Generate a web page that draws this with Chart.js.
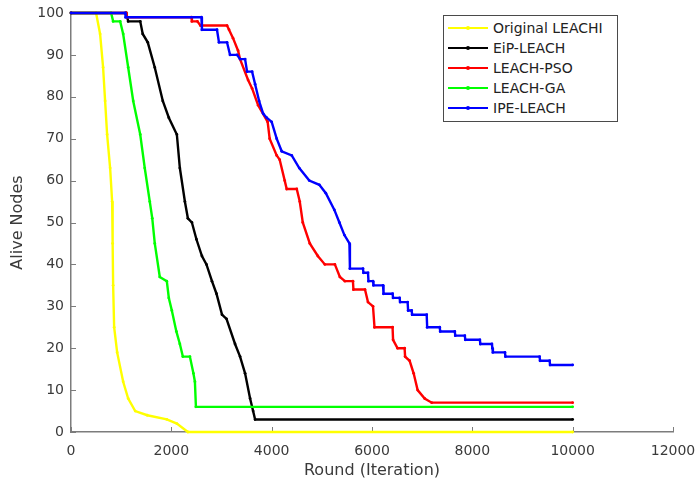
<!DOCTYPE html>
<html>
<head>
<meta charset="utf-8">
<script src="https://cdn.jsdelivr.net/npm/chart.js@4.4.1/dist/chart.umd.min.js"></script>
<style>
  body { margin: 0; background: #fff; }
  #wrap { position: relative; width: 697px; height: 487px; }
  #legend {
    position: absolute; left: 443px; top: 15px; width: 175px; height: 107px;
    box-sizing: border-box; border: 1px solid #4a4a4a; background: #fff;
    padding-top: 2px; font-family: "DejaVu Sans", sans-serif; font-size: 14px; color: #222;
  }
  .row { display: flex; align-items: center; height: 20px; }
  .swatch { position: relative; width: 40px; height: 1.5px; margin-left: 4px; }
  .swatch span { position: absolute; left: 18px; top: -1.25px; width: 4px; height: 4px; border-radius: 2px; }
  .label { margin-left: 5px; white-space: nowrap; }
</style>
</head>
<body>
<div id="wrap">
  <canvas id="chart" width="697" height="487"></canvas>
  <div id="legend"></div>
</div>
<script>
const seriesNames = ["Original LEACHI", "EiP-LEACH", "LEACH-PSO", "LEACH-GA", "IPE-LEACH"];
const seriesColors = ["#ffff00", "#000000", "#ff0000", "#00ff00", "#0000ff"];

const leachiRounds = [0, 500, 580, 640, 680, 720, 780, 820, 830, 840, 860, 920, 1040, 1140, 1280, 1520, 1910, 2110, 2330, 10000];
const leachiAlive = [100, 100, 95, 87, 79, 71, 63, 55, 45, 35, 25, 19, 12, 8, 5, 4, 3, 2, 0, 0];

const eipRounds = [0, 1100, 1140, 1380, 1430, 1530, 1670, 1830, 1950, 2110, 2170, 2270, 2330, 2410, 2500, 2610, 2700, 2810, 2900, 3010, 3100, 3270, 3370, 3470, 3570, 3630, 3670, 10000];
const eipAlive = [100, 100, 98, 98, 95, 93, 87, 79, 75, 71, 63, 55, 51, 50, 46, 42, 40, 36, 33, 28, 27, 21, 18, 14, 8, 5, 3, 3];

const psoRounds = [0, 1100, 1110, 2400, 2410, 2520, 2580, 3110, 3150, 3230, 3330, 3370, 3530, 3610, 3730, 3920, 3960, 4100, 4160, 4260, 4300, 4500, 4560, 4620, 4760, 4920, 5060, 5260, 5360, 5460, 5620, 5630, 5860, 5920, 6020, 6050, 6410, 6420, 6510, 6650, 6660, 6750, 6830, 6910, 7050, 7190, 10000];
const psoAlive = [100, 100, 99, 99, 98, 98, 97, 97, 96, 94, 91, 89, 84, 82, 78, 74, 70, 66, 65, 60, 58, 58, 55, 50, 45, 42, 40, 40, 37, 36, 36, 34, 34, 31, 30, 25, 25, 22, 20, 20, 18, 17, 14, 10, 8, 7, 7];

const gaRounds = [0, 800, 840, 980, 1040, 1140, 1240, 1380, 1470, 1570, 1620, 1670, 1770, 1910, 1950, 2010, 2100, 2170, 2230, 2370, 2440, 2470, 2490, 10000];
const gaAlive = [100, 100, 98, 98, 95, 87, 79, 71, 63, 55, 51, 45, 37, 36, 32, 29, 24, 21, 18, 18, 14, 12, 6, 6];

const ipeRounds = [0, 1080, 1090, 2600, 2610, 2910, 2950, 3110, 3170, 3310, 3370, 3470, 3510, 3610, 3670, 3750, 3830, 3900, 4000, 4100, 4200, 4400, 4550, 4750, 4950, 5080, 5250, 5350, 5450, 5550, 5560, 5820, 5830, 5920, 5930, 6020, 6030, 6220, 6230, 6410, 6420, 6550, 6560, 6710, 6720, 6790, 6800, 7090, 7100, 7350, 7360, 7650, 7660, 7850, 7860, 8150, 8160, 8390, 8400, 8410, 8650, 8660, 9340, 9350, 9540, 9550, 10000];
const ipeAlive = [100, 100, 99, 99, 96, 96, 93, 93, 90, 90, 89, 89, 86, 86, 83, 79, 76, 75, 74, 70, 67, 66, 63, 60, 59, 57, 53, 50, 47, 45, 39, 39, 38, 38, 36, 36, 35, 35, 33, 33, 32, 32, 31, 31, 29, 29, 28, 28, 25, 25, 24, 24, 23, 23, 22, 22, 21, 21, 20, 19, 19, 18, 18, 17, 17, 16, 16];

const xTickValues = [0, 2000, 4000, 6000, 8000, 10000, 12000];
const yTickValues = [0, 10, 20, 30, 40, 50, 60, 70, 80, 90, 100];

const axisColor = "#7c7c7c";
const textColor = "#3a3a3a";

function toPoints(xs, ys) {
  return xs.map((x, i) => ({ x: x, y: ys[i] }));
}

const allRounds = [leachiRounds, eipRounds, psoRounds, gaRounds, ipeRounds];
const allAlive = [leachiAlive, eipAlive, psoAlive, gaAlive, ipeAlive];
const drawOrder = [5, 4, 2, 3, 1];

const datasets = seriesNames.map((name, i) => ({
  label: name,
  data: toPoints(allRounds[i], allAlive[i]),
  borderColor: seriesColors[i],
  backgroundColor: seriesColors[i],
  borderWidth: 2.4,
  pointRadius: 1.4,
  pointHoverRadius: 0,
  pointBorderWidth: 0,
  tension: 0,
  clip: 6,
  order: drawOrder[i],
}));

// small tick marks pointing into the plot, like the original figure
const inwardTicks = {
  id: "inwardTicks",
  beforeDatasetsDraw(chart) {
    const { ctx, scales } = chart;
    const x = scales.x;
    const y = scales.y;
    ctx.save();
    ctx.strokeStyle = axisColor;
    ctx.lineWidth = 1;
    x.ticks.forEach((t) => {
      const px = Math.round(x.getPixelForValue(t.value)) + 0.5;
      ctx.beginPath();
      ctx.moveTo(px, y.bottom);
      ctx.lineTo(px, y.bottom - 5);
      ctx.stroke();
    });
    y.ticks.forEach((t) => {
      const py = Math.round(y.getPixelForValue(t.value)) + 0.5;
      ctx.beginPath();
      ctx.moveTo(x.left, py);
      ctx.lineTo(x.left + 5, py);
      ctx.stroke();
    });
    ctx.restore();
  },
};

new Chart(document.getElementById("chart"), {
  type: "line",
  data: { datasets: datasets },
  options: {
    responsive: false,
    animation: false,
    devicePixelRatio: 1,
    layout: { padding: { top: 13, right: 24, left: 0, bottom: 0 } },
    plugins: { legend: { display: false }, tooltip: { enabled: false } },
    scales: {
      x: {
        type: "linear",
        min: 0,
        max: 12000,
        afterFit: (scale) => {
          scale.height = 55;
          scale.paddingLeft = 0;
          scale.paddingRight = 0;
        },
        afterBuildTicks: (scale) => { scale.ticks = xTickValues.map((v) => ({ value: v })); },
        ticks: {
          padding: 11,
          color: textColor,
          font: { family: "DejaVu Sans", size: 14 },
          callback: (v) => String(v),
          maxRotation: 0,
        },
        grid: { display: true, drawOnChartArea: false, drawTicks: false },
        border: { display: true, color: axisColor, width: 1.5 },
        title: {
          display: true,
          text: "Round (Iteration)",
          color: textColor,
          font: { family: "DejaVu Sans", size: 16 },
          padding: { top: 0, bottom: 7 },
        },
      },
      y: {
        type: "linear",
        min: 0,
        max: 100,
        afterFit: (scale) => {
          scale.width = 71;
          scale.paddingTop = 0;
          scale.paddingBottom = 0;
        },
        afterBuildTicks: (scale) => { scale.ticks = yTickValues.map((v) => ({ value: v })); },
        ticks: {
          padding: 7,
          color: textColor,
          font: { family: "DejaVu Sans", size: 14 },
          callback: (v) => String(v),
        },
        grid: { display: true, drawOnChartArea: false, drawTicks: false },
        border: { display: true, color: axisColor, width: 1.5 },
        title: {
          display: true,
          text: "Alive Nodes",
          color: textColor,
          font: { family: "DejaVu Sans", size: 16 },
          padding: { top: 8, bottom: 0 },
        },
      },
    },
  },
  plugins: [inwardTicks],
});

// legend box drawn as html, top right inside the axes
const legend = document.getElementById("legend");
seriesNames.forEach((name, i) => {
  const row = document.createElement("div");
  row.className = "row";
  const swatch = document.createElement("div");
  swatch.className = "swatch";
  swatch.style.background = seriesColors[i];
  const dot = document.createElement("span");
  dot.style.background = seriesColors[i];
  swatch.appendChild(dot);
  const label = document.createElement("div");
  label.className = "label";
  label.textContent = name;
  row.appendChild(swatch);
  row.appendChild(label);
  legend.appendChild(row);
});
</script>
</body>
</html>
